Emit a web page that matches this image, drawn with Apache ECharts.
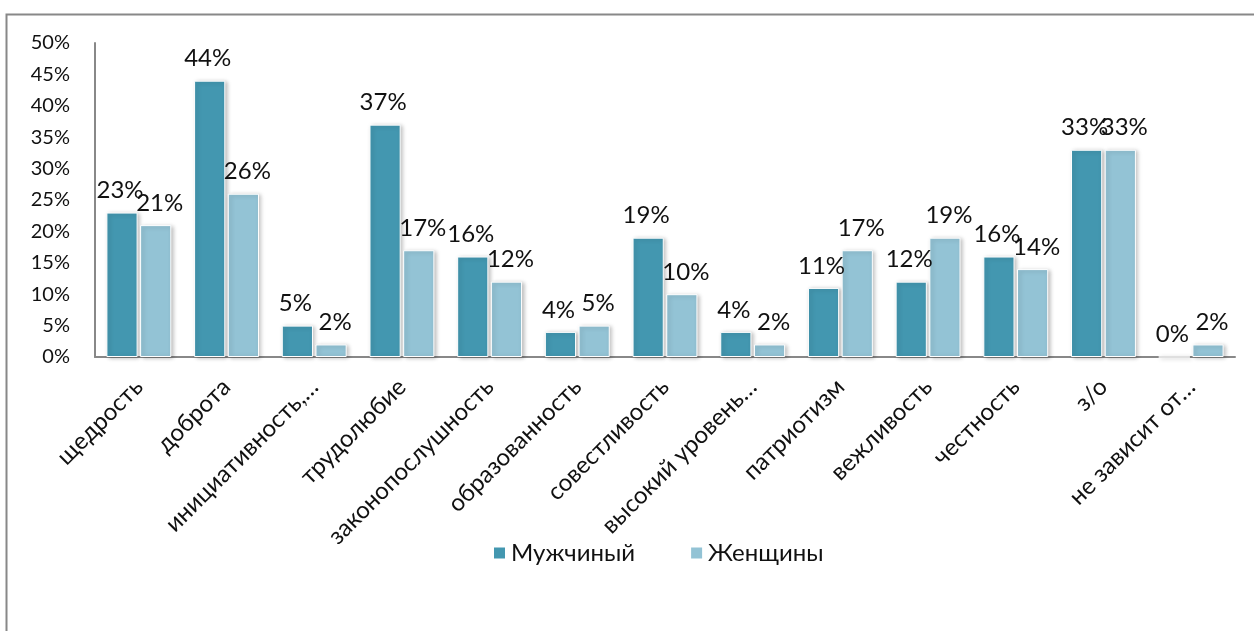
<!DOCTYPE html>
<html>
<head>
<meta charset="utf-8">
<script src="https://cdn.jsdelivr.net/npm/echarts@6/dist/echarts.min.js"></script>
<style>
  html, body { margin: 0; padding: 0; background: #fff; }
  #chart { width: 1254px; height: 631px; }
</style>
</head>
<body>
<div id="chart"></div>
<script>
// категории и значения (%)
const categories = ['щедрость', 'доброта', 'инициативность,…', 'трудолюбие', 'законопослушность',
    'образованность', 'совестливость', 'высокий уровень…', 'патриотизм', 'вежливость',
    'честность', 'з/о', 'не зависит от…'];
const menValues = [23, 44, 5, 37, 16, 4, 19, 4, 11, 12, 16, 33, 0];
const womenValues = [21, 26, 2, 17, 12, 5, 10, 2, 17, 19, 14, 33, 2];
const yTicks = [0, 5, 10, 15, 20, 25, 30, 35, 40, 45, 50];

const font = 'Lato, "Open Sans", sans-serif';
const chart = echarts.init(document.getElementById('chart'));

function barSeries(name, data, dx) {
    return {
        name: name,
        type: 'bar',
        data: data,
        barGap: '8%',
        barCategoryGap: '26%',
        itemStyle: {
            borderColor: '#fff',
            borderWidth: 1,
            shadowColor: 'rgba(0,0,0,0.25)',
            shadowBlur: 4,
            shadowOffsetX: 2,
            shadowOffsetY: 1
        },
        label: {
            show: true,
            position: 'top',
            distance: 10,
            offset: [dx, 0],
            formatter: '{c}%',
            fontFamily: font,
            fontSize: 24,
            color: '#111'
        }
    };
}

chart.setOption({
    animation: false,
    color: ['#4397b0', '#93c3d5'],
    graphic: [{
        type: 'rect',
        shape: { x: 6.5, y: 14.5, width: 1260, height: 640 },
        style: { fill: 'none', stroke: '#888', lineWidth: 2 },
        silent: true
    }],
    grid: { left: 95, right: 19, top: 43, bottom: 274 },
    legend: {
        left: 487,
        top: 536,
        itemWidth: 13,
        itemHeight: 13,
        itemGap: 54,
        icon: 'rect',
        textStyle: { fontFamily: font, fontSize: 24, color: '#111' },
        data: ['Мужчиный', 'Женщины']
    },
    xAxis: {
        type: 'category',
        data: categories,
        axisLine: { lineStyle: { color: '#888', width: 2 } },
        axisTick: { show: false },
        axisLabel: {
            interval: 0,
            rotate: 45,
            margin: 26,
            fontFamily: font,
            fontSize: 24,
            color: '#111'
        }
    },
    yAxis: {
        type: 'value',
        min: yTicks[0],
        max: yTicks[yTicks.length - 1],
        interval: 5,
        splitLine: { show: false },
        axisTick: { show: false },
        axisLine: { show: true, lineStyle: { color: '#888', width: 2 } },
        axisLabel: {
            margin: 25,
            formatter: '{value}%',
            fontFamily: font,
            fontSize: 20,
            color: '#111'
        }
    },
    series: [
        barSeries('Мужчиный', menValues, -2),
        barSeries('Женщины', womenValues, 4)
    ]
});
</script>
</body>
</html>
